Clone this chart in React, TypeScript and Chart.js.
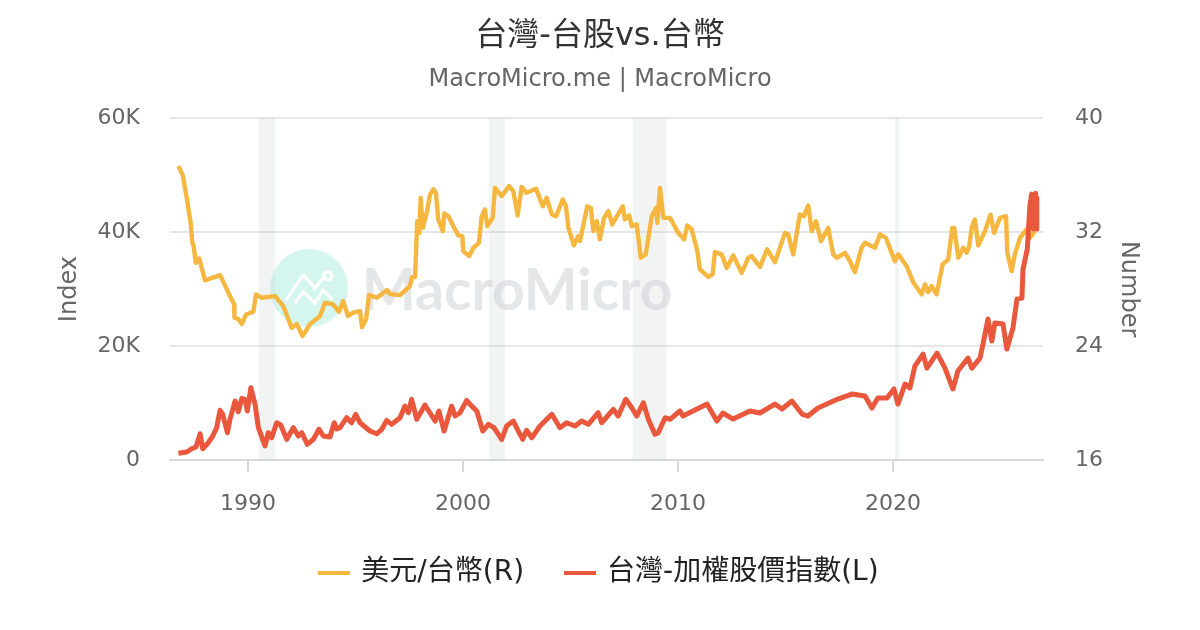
import React, { useEffect, useRef } from "react";
import { Chart, registerables } from "chart.js";

Chart.register(...registerables);

const usdYears = [1986.76,1986.96,1987.15,1987.33,1987.41,1987.47,1987.57,1987.73,1988.0,1988.7,1989.35,1989.37,1989.55,1989.71,1989.91,1990.25,1990.37,1990.64,1991.26,1991.64,1992.03,1992.27,1992.54,1992.88,1993.35,1993.58,1993.95,1994.23,1994.42,1994.65,1994.88,1995.21,1995.3,1995.49,1995.63,1996.0,1996.47,1996.6,1997.07,1997.53,1997.63,1997.77,
1997.87,1997.97,1998.03,1998.13,1998.31,1998.47,1998.62,1998.74,1998.85,1999.06,1999.13,1999.32,1999.55,1999.78,1999.97,2000.01,2000.29,2000.48,2000.74,2000.87,2001.02,2001.13,2001.38,2001.49,2001.8,2002.14,2002.34,2002.54,2002.73,2002.96,2003.4,2003.71,2003.89,2004.13,2004.33,2004.64,2004.79,2004.9,2005.16,2005.36,2005.44,2005.78,2005.95,2006.06,2006.22,2006.37,2006.56,2006.76,2006.94,2007.43,2007.53,2007.73,2007.85,2008.08,2008.27,2008.5,2008.78,2008.98,2009.04,2009.16,2009.32,2009.63,2010.01,2010.29,2010.43,2010.64,2010.9,2011.02,2011.41,2011.61,2011.72,2012.03,2012.27,2012.57,2012.96,2013.27,2013.43,2013.81,2014.15,2014.51,2014.98,2015.13,2015.36,2015.67,2015.86,2016.06,2016.22,2016.42,2016.65,2016.99,2017.22,2017.38,2017.77,2018.0,2018.23,2018.54,2018.7,2019.16,2019.4,2019.67,2020.09,2020.25,2020.64,2020.94,2021.33,2021.49,2021.64,2021.8,2022.03,2022.31,2022.57,2022.76,2022.85,2023.04,2023.27,2023.43,2023.55,2023.66,2023.81,2023.97,2024.28,2024.54,2024.7,2024.98,2025.26,2025.32,2025.52,2025.67,2025.91,2026.22,2026.37,2026.6];
const usdValues = [36.63,36.0,34.41,32.65,31.25,31.0,29.85,30.15,28.61,28.98,26.93,25.99,25.89,25.56,26.22,26.41,27.63,27.39,27.51,26.81,25.28,25.54,24.7,25.54,26.11,27.04,26.95,26.39,27.16,26.11,26.34,26.46,25.33,25.89,27.58,27.39,27.93,27.65,27.58,28.21,28.84,28.84,
32.77,31.95,34.41,32.3,33.35,34.65,35.0,34.76,32.89,32.07,33.31,33.12,32.42,31.77,31.72,30.67,30.32,30.9,31.25,33.12,33.59,32.42,33.0,35.11,34.53,35.23,34.88,33.17,35.18,34.76,35.04,33.82,34.41,33.24,33.12,34.29,33.82,32.3,31.07,31.72,31.37,33.82,33.7,32.07,32.77,31.49,33.0,33.47,32.54,33.82,32.89,33.17,32.42,32.54,30.2,30.44,33.12,33.7,32.65,35.11,33.0,33.0,31.95,31.49,32.47,32.19,30.67,29.38,28.86,29.03,30.6,30.44,29.49,30.36,29.14,30.2,30.32,29.56,30.79,29.89,31.95,31.84,30.44,33.24,33.12,33.87,32.07,32.77,31.37,32.3,30.44,30.2,30.55,29.96,29.19,30.9,31.25,30.9,31.84,31.6,29.96,30.44,29.61,28.49,27.63,28.33,27.79,28.21,27.63,29.73,30.08,32.3,32.3,30.2,30.9,30.55,31.02,32.3,32.89,31.07,32.07,33.24,31.95,33.0,33.12,30.55,29.26,30.44,31.6,32.19,31.6,32.07];

const taiexYears = [1986.76,1987.15,1987.38,1987.58,1987.77,1987.89,1988.15,1988.36,1988.54,1988.7,1988.82,1989.04,1989.16,1989.4,1989.55,1989.71,1989.86,1989.97,1990.13,1990.33,1990.48,1990.79,1990.94,1991.1,1991.33,1991.52,1991.8,1992.11,1992.34,1992.5,1992.76,1993.04,1993.3,1993.5,1993.81,1994.01,1994.13,1994.28,1994.59,1994.82,1995.01,1995.21,1995.67,1995.99,1996.22,1996.45,1996.68,1997.07,1997.3,1997.46,1997.61,1997.85,1998.23,1998.7,1998.88,1999.12,1999.47,1999.63,1999.86,2000.17,2000.4,2000.64,2000.92,2001.18,2001.44,2001.8,2002.03,2002.34,2002.57,2002.78,2002.96,2003.2,2003.58,2004.13,2004.51,2004.82,2005.21,2005.52,2005.83,2006.29,2006.45,2006.99,2007.22,2007.57,2007.85,2008.08,2008.39,2008.62,2008.93,2009.08,2009.4,2009.63,2010.09,
2010.23,2011.35,2011.81,2012.09,2012.56,2013.35,2013.81,2014.51,2014.84,2015.3,2015.77,2016.05,2016.51,2017.44,2018.09,2018.7,2019.02,2019.3,2019.72,2020.05,2020.23,2020.56,2020.79,2021.02,2021.4,2021.58,2022.05,2022.42,2022.79,2023.02,2023.49,2023.67,2024.05,2024.19,2024.42,2024.6,2024.74,2025.12,2025.3,2025.58,2025.77,2026.0,2026.05,2026.25,2026.37,2026.45,2026.53,2026.64,2026.67,2026.69];
const taiexValues = [1175,1400,1980,2280,4610,1980,3040,4210,5670,8720,8020,4790,7140,10350,8470,10820,10650,8600,12680,9770,5670,2460,4790,3910,6540,6140,3630,5670,4210,4790,2750,3630,5390,4210,4040,6540,5440,5670,7420,6540,8020,6540,5090,4610,5390,6960,6260,7420,9470,8300,10650,7140,9650,6840,8600,5090,9470,7720,8300,10470,9470,8600,5090,6260,5670,3630,5960,6840,5090,3630,5210,3910,5960,8020,5670,6540,5960,6840,6260,8300,6540,8890,7720,10650,9180,7720,10050,7140,4510,4790,7420,7140,8600,
7720,9820,6840,8250,7190,8600,8250,9820,8950,10350,8070,7720,9120,10700,11580,11230,9120,10880,10880,12460,9820,13330,12630,16490,18600,16140,18770,16140,12460,15610,17890,16140,17890,20350,24740,20880,24040,23860,19470,23160,28250,28420,33510,37020,44560,46670,40530,46840,40530,46300];

const recessionStarts = [1990.51, 2001.21, 2007.89, 2020.09];
const recessionEnds = [1991.26, 2001.95, 2009.47, 2020.28];

const titleText = "台灣-台股vs.台幣";
const subtitleText = "MacroMicro.me | MacroMicro";
const usdLabel = "美元/台幣(R)";
const taiexLabel = "台灣-加權股價指數(L)";
const FONT = '"DejaVu Sans", "Noto Sans CJK TC", sans-serif';
const USD_COLOR = "#f5b73f";
const TAIEX_COLOR = "#e9573c";

const bandsAndWatermark = {
  id: "bandsAndWatermark",
  beforeDatasetsDraw(chart: any) {
    const { ctx, chartArea, scales } = chart;
    ctx.save();
    ctx.fillStyle = "#d5f6ef";
    ctx.beginPath();
    ctx.arc(309, 288, 39, 0, Math.PI * 2);
    ctx.fill();
    ctx.strokeStyle = "#ffffff";
    ctx.lineWidth = 3.2;
    ctx.beginPath();
    ctx.moveTo(286, 300); ctx.lineTo(303.3, 275); ctx.lineTo(315, 288.3); ctx.lineTo(323.3, 278.3);
    ctx.stroke();
    ctx.beginPath();
    ctx.arc(327.7, 275.7, 4, 0, Math.PI * 2);
    ctx.stroke();
    ctx.beginPath();
    ctx.moveTo(295, 303.3); ctx.lineTo(303.3, 291.7); ctx.lineTo(315, 303.3); ctx.lineTo(323.3, 290); ctx.lineTo(332.7, 300);
    ctx.stroke();
    ctx.fillStyle = "#e4e6e8";
    ctx.font = 'bold 57px "Lato", sans-serif';
    ctx.textAlign = "left";
    ctx.textBaseline = "alphabetic";
    ctx.fillText("MacroMicro", 362, 310);
    ctx.fillStyle = "rgba(205,210,210,0.25)";
    recessionStarts.forEach((s, i) => {
      const x0 = scales.x.getPixelForValue(s);
      const x1 = scales.x.getPixelForValue(recessionEnds[i]);
      ctx.fillRect(x0, chartArea.top, x1 - x0, chartArea.bottom - chartArea.top);
    });
    ctx.restore();
  },
};

function legendSwatch(color: string) {
  const c = document.createElement("canvas");
  c.width = 32;
  c.height = 4;
  const g = c.getContext("2d") as CanvasRenderingContext2D;
  g.fillStyle = color;
  g.fillRect(0, 0, 32, 4);
  return c;
}

export default function App() {
  const ref = useRef<HTMLCanvasElement>(null);
  useEffect(() => {
    const chart = new Chart(ref.current as HTMLCanvasElement, {
      type: "line",
      plugins: [bandsAndWatermark],
      data: {
        datasets: [
          {
            label: usdLabel,
            data: usdYears.map((x, i) => ({ x, y: usdValues[i] })),
            yAxisID: "yR",
            borderColor: USD_COLOR,
            backgroundColor: USD_COLOR,
            borderWidth: 4.4,
            borderJoinStyle: "round",
            pointRadius: 0,
            tension: 0,
            order: 2,
          },
          {
            label: taiexLabel,
            data: taiexYears.map((x, i) => ({ x, y: taiexValues[i] })),
            yAxisID: "yL",
            borderColor: TAIEX_COLOR,
            backgroundColor: TAIEX_COLOR,
            borderWidth: 5,
            borderJoinStyle: "round",
            pointRadius: 0,
            tension: 0,
            order: 1,
          },
        ],
      } as any,
      options: {
        responsive: false,
        animation: false,
        devicePixelRatio: 1,
        layout: { padding: { top: 17, bottom: 33 } },
        plugins: {
          title: {
            display: true,
            text: titleText,
            color: "#333333",
            font: { family: FONT, size: 32, weight: "normal" },
            padding: { top: 0, bottom: 10 },
          },
          subtitle: {
            display: true,
            text: subtitleText,
            color: "#666666",
            font: { family: FONT, size: 24, weight: "normal" },
            padding: { top: 0, bottom: 24 },
          },
          legend: {
            position: "bottom",
            labels: {
              usePointStyle: true,
              pointStyleWidth: 26,
              boxHeight: 4,
              color: "#222222",
              padding: 43,
              font: { family: FONT, size: 28 },
              sort: (a: any, b: any) => a.datasetIndex - b.datasetIndex,
              generateLabels: (c: any) =>
                Chart.defaults.plugins.legend.labels.generateLabels(c).map((it: any) => ({
                  ...it,
                  pointStyle: legendSwatch(it.datasetIndex === 0 ? USD_COLOR : TAIEX_COLOR),
                })),
            },
          },
          tooltip: { enabled: false },
        },
        scales: {
          x: {
            type: "linear",
            min: 1986.37,
            max: 2026.98,
            afterFit: (s: any) => { s.height = 56; },
            border: { color: "#d8d8d8", width: 2 },
            grid: { drawOnChartArea: false, drawTicks: true, tickLength: 12, color: "#d8d8d8", lineWidth: 2 },
            ticks: {
              stepSize: 10,
              includeBounds: false,
              maxRotation: 0,
              color: "#666666",
              padding: 19,
              font: { family: FONT, size: 22 },
              callback: (v: any) => String(v),
            },
          },
          yL: {
            type: "linear",
            position: "left",
            min: 0,
            max: 60000,
            afterFit: (s: any) => { s.width = 170; },
            border: { display: false },
            grid: { color: "#e6e6e6", lineWidth: 2, drawTicks: false },
            ticks: {
              stepSize: 20000,
              color: "#666666",
              padding: 30,
              font: { family: FONT, size: 22 },
              callback: (v: any) => (v === 0 ? "0" : `${v / 1000}K`),
            },
            title: {
              display: true,
              text: "Index",
              color: "#666666",
              font: { family: FONT, size: 24 },
              padding: { top: 55, bottom: 0 },
            },
          },
          yR: {
            type: "linear",
            position: "right",
            min: 16,
            max: 40,
            afterFit: (s: any) => { s.width = 157; },
            border: { display: false },
            grid: { drawOnChartArea: false, drawTicks: false },
            ticks: {
              stepSize: 8,
              color: "#666666",
              padding: 32,
              font: { family: FONT, size: 22 },
            },
            title: {
              display: true,
              text: "Number",
              color: "#666666",
              font: { family: FONT, size: 24 },
              padding: { top: 57, bottom: 0 },
            },
          },
        },
      } as any,
    });
    return () => chart.destroy();
  }, []);
  return (
    <div style={{ position: "absolute", left: 0, top: 0, width: 1200, height: 630, background: "#fff" }}>
      <canvas ref={ref} width={1200} height={630} style={{ display: "block" }} />
    </div>
  );
}
